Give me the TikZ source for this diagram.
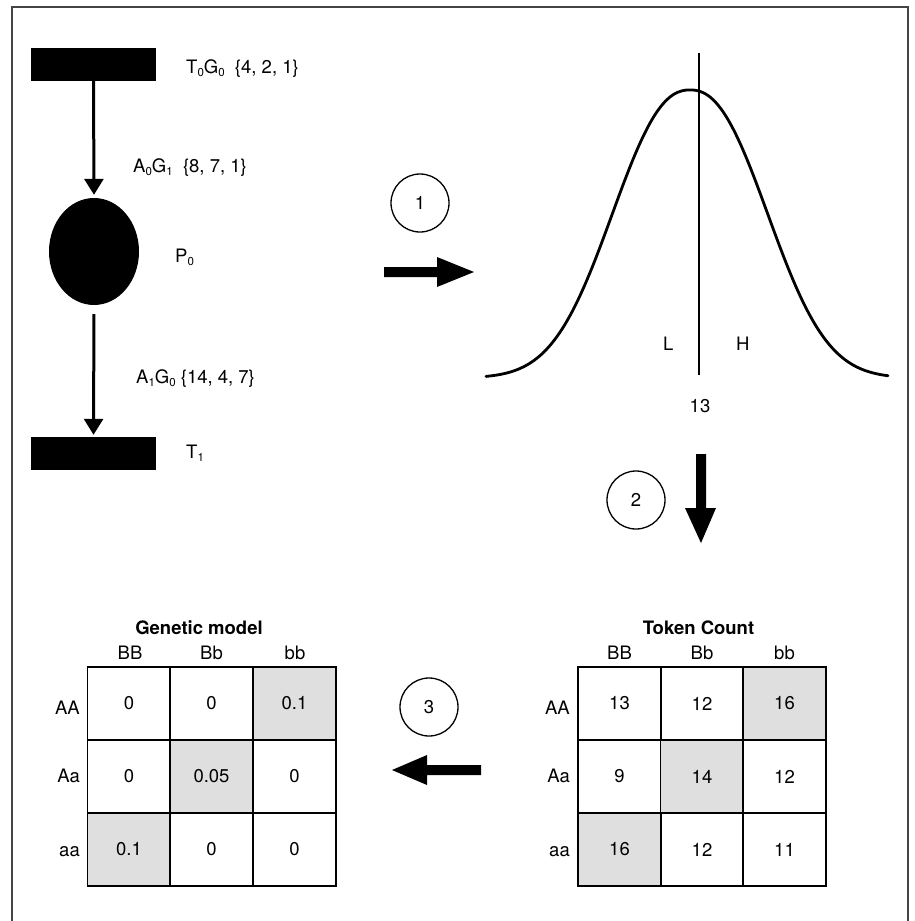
\documentclass[tikz,border=0pt]{standalone}
\usepackage{fontspec}
\setmainfont{TeX Gyre Heros}
\usetikzlibrary{shapes.geometric,arrows.meta}
\definecolor{framec}{HTML}{444444}
\definecolor{cellgray}{HTML}{DFDFDF}
\newcommand{\fs}{\fontsize{18.5}{21}\selectfont}
\newcommand{\sbs}[1]{\raisebox{-3pt}{\fontsize{11.5}{12}\selectfont #1}}
\begin{document}
\begin{tikzpicture}[x=1pt,y=-1pt,
  txt/.style={inner sep=0pt,font=\fs},
  lab/.style={txt,anchor=base west},
  hdr/.style={txt,anchor=base},
  rowlab/.style={txt,anchor=base east},
  ttl/.style={txt,anchor=base,font=\fs\bfseries},
  bar/.style={fill=black,draw=none,minimum width=125pt,minimum height=33pt,inner sep=0pt},
  place/.style={ellipse,fill=black,draw=none,minimum width=90pt,minimum height=107pt,inner sep=0pt},
  pnarrow/.style={line width=3pt,-{Triangle[length=16pt,width=19pt]}},
  numc/.style={circle,draw,line width=1.3pt,minimum size=58pt,inner sep=0pt,font=\fs},
  cell/.style={draw,line width=1.5pt,minimum width=82.7pt,minimum height=73pt,inner sep=0pt,font=\fs},
  gcell/.style={cell,fill=cellgray},
  bigarrow/.style={fill=black}
]
\useasboundingbox (0,0) rectangle (914,921);
% frame
\draw[framec,line width=1.8pt] (12,921) -- (12,7) -- (908,7) -- (908,921);

% Petri net
\node[bar] (T0) at (93.5,64.5) {};
\node[place] (P0) at (94,251.5) {};
\node[bar] (T1) at (93.5,453.5) {};
\draw[pnarrow,shorten >=3pt] (T0.south) -- (P0.north);
\draw[pnarrow,shorten <=9pt,shorten >=2pt] (P0.south) -- (T1.north);

\node[lab] (lT0) at (186,73) {T\sbs{0}G\sbs{0}\ \ \{4, 2, 1\}};
\node[lab] (lA0) at (133,172) {A\sbs{0}G\sbs{1}\ \ \{8, 7, 1\}};
\node[lab] (lP0) at (175,262) {P\sbs{0}};
\node[lab] (lA1) at (136,383) {A\sbs{1}G\sbs{0}\ \{14, 4, 7\}};
\node[lab] (lT1) at (186,458) {T\sbs{1}};

% step 1
\node[numc] (c1) at (420,203) {1};
\fill[bigarrow] (384,267) -- (437,267) -- (437,257) -- (474,272) -- (437,287) -- (437,277) -- (384,277) -- cycle;

% distribution curve
\draw[line width=2.8pt,line cap=round] plot[domain=486:888,samples=160,smooth]
  ({\x},{378-288*exp(-0.5*pow(abs((\x-690)/73.8),2.3))});
\draw[line width=1.3pt] (699,53) -- (699,375);
\node[lab] (lL) at (663,350) {L};
\node[lab] (lH) at (736,350) {H};
\node[hdr] (l13) at (700,412) {13};

% step 2
\node[numc] (c2) at (636,500) {2};
\fill[bigarrow] (696,454) -- (706,454) -- (706,508) -- (716,508) -- (701,543) -- (685,508) -- (696,508) -- cycle;

% step 3
\node[numc] (c3) at (429,707) {3};
\fill[bigarrow] (481,765) -- (427,765) -- (427,755) -- (392,770) -- (427,785) -- (427,775) -- (481,775) -- cycle;

% Genetic model table
\node[ttl] (gt) at (199,634) {Genetic model};
\node[hdr] (gh1) at (130,659) {BB};
\node[hdr] (gh2) at (211.5,659) {Bb};
\node[hdr] (gh3) at (295,659) {bb};
\node[rowlab] (gr1) at (80,714) {AA};
\node[rowlab] (gr2) at (80,782) {Aa};
\node[rowlab] (gr3) at (80,856) {aa};
\node[cell]  (g11) at (129,703.5) {0};
\node[cell]  (g12) at (211.5,703.5) {0};
\node[gcell] (g13) at (294.5,703.5) {0.1};
\node[cell]  (g21) at (129,776.5) {0};
\node[gcell] (g22) at (211.5,776.5) {0.05};
\node[cell]  (g23) at (294.5,776.5) {0};
\node[gcell] (g31) at (129,849.5) {0.1};
\node[cell]  (g32) at (211.5,849.5) {0};
\node[cell]  (g33) at (294.5,849.5) {0};

% Token count table
\node[ttl] (tt) at (698.5,634) {Token Count};
\node[hdr] (th1) at (619.5,659) {BB};
\node[hdr] (th2) at (702,659) {Bb};
\node[hdr] (th3) at (784.5,659) {bb};
\node[rowlab] (tr1) at (570,714) {AA};
\node[rowlab] (tr2) at (570,782) {Aa};
\node[rowlab] (tr3) at (570,856) {aa};
\node[cell]  (t11) at (619.5,703.5) {13};
\node[cell]  (t12) at (702,703.5) {12};
\node[gcell] (t13) at (784.5,703.5) {16};
\node[cell]  (t21) at (619.5,776.5) {9};
\node[gcell] (t22) at (702,776.5) {14};
\node[cell]  (t23) at (784.5,776.5) {12};
\node[gcell] (t31) at (619.5,849.5) {16};
\node[cell]  (t32) at (702,849.5) {12};
\node[cell]  (t33) at (784.5,849.5) {11};
\end{tikzpicture}
\end{document}
